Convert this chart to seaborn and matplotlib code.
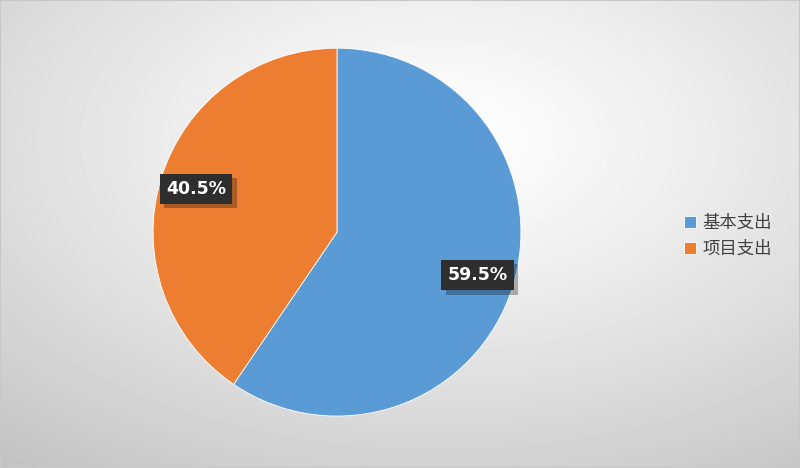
import numpy as np
import matplotlib
matplotlib.use("Agg")
import matplotlib.pyplot as plt
import matplotlib.patheffects as pe
import seaborn as sns

categories = ["基本支出", "项目支出"]
shares = [59.5, 40.5]
colors = ["#5B9BD5", "#ED7D31"]

sns.set_theme(style="white")
plt.rcParams['font.family'] = ['Noto Sans CJK SC', 'DejaVu Sans']

fig = plt.figure(figsize=(8, 4.68), dpi=100)

# radial grey background
bg = fig.add_axes([0, 0, 1, 1])
yy, xx = np.mgrid[0:468, 0:800]
d = np.sqrt(((xx - 440) / 800.0) ** 2 + ((yy - 140) / 468.0) ** 2)
d = d / d.max()
shade = 1.0 - 0.24 * d ** 1.2
bg.imshow(shade, cmap="gray", vmin=0, vmax=1, aspect="auto", extent=[0, 1, 0, 1],
          interpolation="bilinear")
bg.set_xlim(0, 1)
bg.set_ylim(0, 1)
bg.axis("off")
bg.add_patch(plt.Rectangle((0, 0), 1, 1, fill=False, edgecolor="#c8c8c8", lw=1.5,
                           transform=bg.transAxes))

ax = fig.add_axes([0.19125, 0.111, 0.46, 0.786])
wedges, texts, autotexts = ax.pie(
    shares, colors=colors, startangle=90, counterclock=False,
    autopct="%.1f%%", pctdistance=0.8,
    wedgeprops=dict(edgecolor="white", linewidth=0.6),
    textprops=dict(color="white", fontsize=12.5, fontweight="bold", family="DejaVu Sans"),
)
for t in autotexts:
    t.set_bbox(dict(boxstyle="square,pad=0.35", facecolor="#2e2e2e", edgecolor="none"))
    t.get_bbox_patch().set_path_effects([pe.SimplePatchShadow(offset=(3, -3), alpha=0.3), pe.Normal()])
ax.set_xlim(-1, 1)
ax.set_ylim(-1, 1)
ax.set_aspect("equal")

leg = fig.legend(wedges, categories, loc="center left", bbox_to_anchor=(0.835, 0.496),
                 frameon=False, fontsize=12.5, handlelength=0.7, handleheight=0.7,
                 handletextpad=0.4, labelspacing=0.45)
for t in leg.get_texts():
    t.set_color("#404040")

fig.savefig("out.png", dpi=100)
